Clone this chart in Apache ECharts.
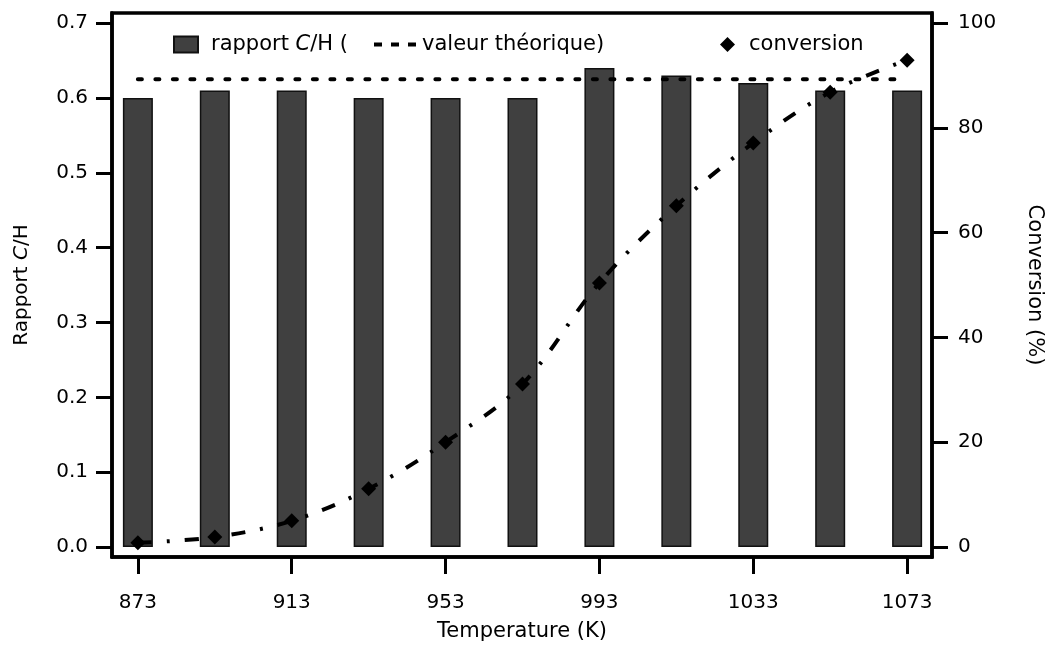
<!DOCTYPE html>
<html>
<head>
<meta charset="utf-8">
<script src="https://cdn.jsdelivr.net/npm/echarts@6/dist/echarts.min.js"></script>
<style>html,body{margin:0;padding:0;background:#fff}#c{width:1053px;height:648px}</style>
</head>
<body>
<div id="c"></div>
<script>
// ---- data ----
const temperatures = [873, 893, 913, 933, 953, 973, 993, 1013, 1033, 1053, 1073];
const ratioCH = [0.60, 0.61, 0.61, 0.60, 0.60, 0.60, 0.64, 0.63, 0.62, 0.61, 0.61];
const theoreticalCH = 0.625;
const theoreticalRange = [873, 1073];
const conversion = [0.8, 1.9, 5.0, 11.1, 20.0, 31.1, 50.4, 65.1, 77.1, 86.8, 92.9];
const xTicks = [873, 913, 953, 993, 1033, 1073];
const leftTicks = [0, 0.1, 0.2, 0.3, 0.4, 0.5, 0.6, 0.7];
const rightTicks = [0, 20, 40, 60, 80, 100];

const numFont = 'DejaVu Sans';
const txtFont = 'DejaVu Sans';
const txtSize = 20;
const legSize = 21;

const chart = echarts.init(document.getElementById('c'), null, {renderer: 'canvas'});
const nameBar = 'rapport C/H (';
const nameTheo = 'valeur théorique)';
const nameConv = 'conversion';

const richStyle = size => ({
  n: {fontFamily: txtFont, fontSize: size, color: '#000'},
  i: {fontFamily: txtFont, fontSize: size, fontStyle: 'italic', color: '#000'}
});
const legendText = pad => ({fontFamily: txtFont, fontSize: legSize, color: '#000', padding: [0, 0, 0, pad], rich: richStyle(legSize)});
const fmt = n => n === nameBar ? '{n|rapport }{i|C}{n|/H (}' : '{n|' + n + '}';

chart.setOption({
  animation: false,
  backgroundColor: '#fff',
  grid: {left: 112, right: 117, top: 13, bottom: 91, show: true, borderColor: '#000', borderWidth: 3.5, backgroundColor: 'transparent'},
  legend: [
    {data: [{name: nameBar, icon: 'rect'}], left: 168, top: 29, itemWidth: 24, itemHeight: 16, formatter: fmt, textStyle: legendText(8), selectedMode: false},
    {data: [{name: nameTheo, icon: 'path://M0,0h8v4h-8z M17,0h8v4h-8z M34,0h8v4h-8z', itemStyle: {color: '#000'}}], left: 369, top: 29, itemWidth: 42, itemHeight: 4, formatter: fmt, textStyle: legendText(1), selectedMode: false},
    {data: [{name: nameConv, icon: 'diamond'}], left: 715, top: 29, itemWidth: 15, itemHeight: 15, formatter: fmt, textStyle: legendText(9), selectedMode: false}
  ],
  xAxis: {
    type: 'value', min: 866.27, max: 1079.47,
    name: 'Temperature (K)', nameLocation: 'middle', nameGap: 64,
    nameTextStyle: {fontFamily: txtFont, fontSize: 21, color: '#000'},
    axisLine: {show: true, onZero: false, lineStyle: {color: '#000', width: 3.5}},
    axisTick: {show: true, inside: false, length: 17, lineStyle: {color: '#000', width: 3}, customValues: xTicks},
    axisLabel: {show: true, margin: 36, fontFamily: txtFont, fontSize: 20, color: '#000', customValues: xTicks, formatter: v => String(v)},
    splitLine: {show: false}
  },
  yAxis: [
    {
      type: 'value', min: -0.01336, max: 0.7136, position: 'left',
      name: 'Rapport {i|C}/H', nameLocation: 'middle', nameGap: 80, nameRotate: 90,
      nameTextStyle: {fontFamily: txtFont, fontSize: txtSize, color: '#000', rich: richStyle(txtSize)},
      axisLine: {show: true, onZero: false, lineStyle: {color: '#000', width: 3.5}},
      axisTick: {show: true, length: 16, lineStyle: {color: '#000', width: 3}, customValues: leftTicks},
      axisLabel: {show: true, margin: 24, fontFamily: numFont, fontSize: 20, color: '#000', customValues: leftTicks, formatter: v => v.toFixed(1)},
      splitLine: {show: false}
    },
    {
      type: 'value', min: -1.908, max: 101.9, position: 'right',
      name: 'Conversion (%)', nameLocation: 'middle', nameGap: 92, nameRotate: -90,
      nameTextStyle: {fontFamily: txtFont, fontSize: 21, color: '#000'},
      axisLine: {show: true, onZero: false, lineStyle: {color: '#000', width: 3.5}},
      axisTick: {show: true, length: 16, lineStyle: {color: '#000', width: 3}, customValues: rightTicks},
      axisLabel: {show: true, margin: 26, fontFamily: numFont, fontSize: 20, color: '#000', customValues: rightTicks, formatter: v => String(Math.round(v))},
      splitLine: {show: false}
    }
  ],
  series: [
    {
      name: nameBar, type: 'bar', yAxisIndex: 0, barWidth: 30,
      itemStyle: {color: '#404040', borderColor: '#111', borderWidth: 1.5},
      data: temperatures.map((t, i) => [t, ratioCH[i]]), z: 2
    },
    {
      name: nameTheo, type: 'line', yAxisIndex: 0, symbol: 'none',
      itemStyle: {color: '#000'},
      lineStyle: {color: '#000', width: 4, type: [4, 13.5], cap: 'round'},
      data: theoreticalRange.map(t => [t, theoreticalCH]), z: 3
    },
    {
      name: nameConv, type: 'line', yAxisIndex: 1, smooth: 0.35,
      symbol: 'diamond', symbolSize: 15, showSymbol: true,
      itemStyle: {color: '#000'},
      lineStyle: {color: '#000', width: 4, type: [14, 15, 3, 15]},
      data: temperatures.map((t, i) => [t, conversion[i]]), z: 4
    }
  ]
});
</script>
</body>
</html>
